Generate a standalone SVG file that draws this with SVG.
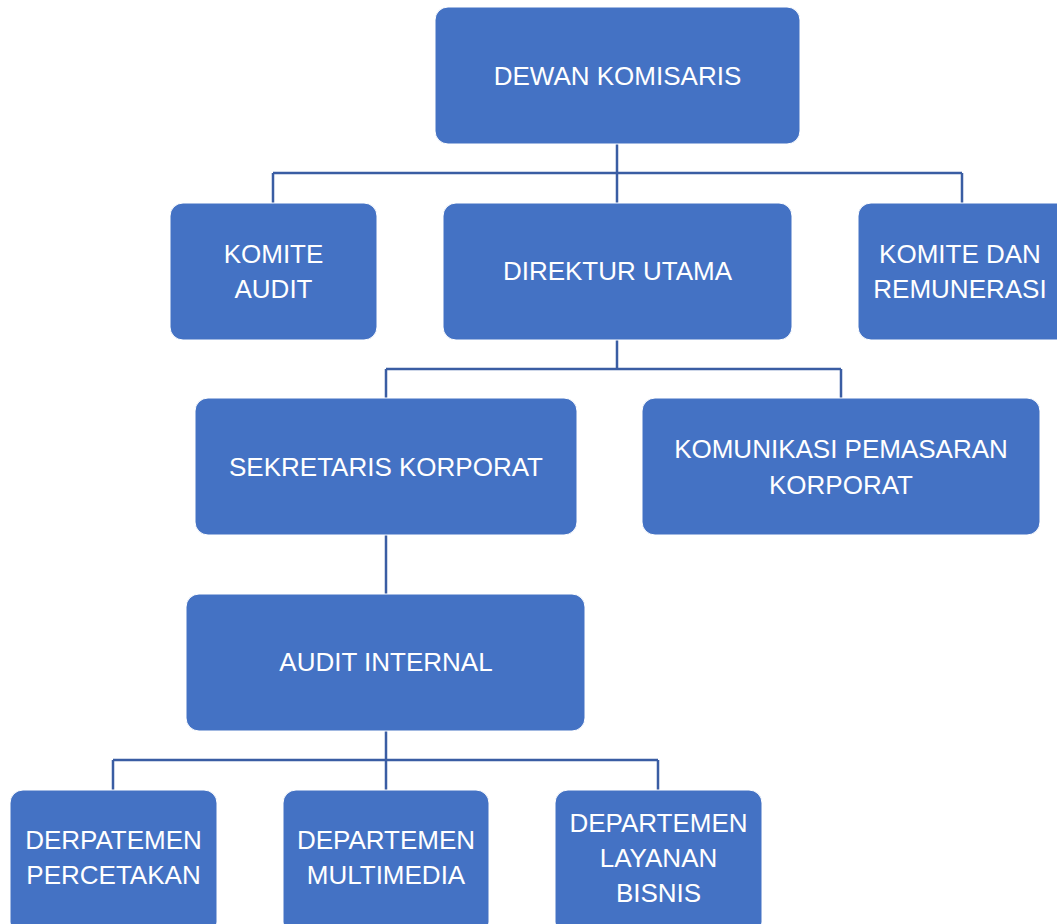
<svg xmlns="http://www.w3.org/2000/svg" width="1057" height="924" viewBox="0 0 1057 924">
<style>
.box{fill:#4472C4;stroke:#ffffff;stroke-width:1}
.t{font-family:"Liberation Sans",Arial,sans-serif;font-size:26px;fill:#ffffff;text-anchor:middle}
.c{fill:none;stroke:#3A5DA3;stroke-width:2.5}
</style>
<rect width="1057" height="924" fill="#ffffff"/>
<g id="connectors">
<path class="c" d="M617,144 V173 M273,173 H962 M273,173 V203 M617,173 V203 M962,173 V203"/>
<path class="c" d="M617,340 V369 M386,369 H841 M386,369 V398 M841,369 V398"/>
<path class="c" d="M386,535 V594"/>
<path class="c" d="M386,731 V760 M113,760 H658 M113,760 V790 M386,760 V790 M658,760 V790"/>
</g>
<g id="dewan-komisaris">
<rect class="box" x="435" y="7" width="365" height="137" rx="13"/>
<text class="t" x="617.5" y="85">DEWAN KOMISARIS</text>
</g>
<g id="komite-audit">
<rect class="box" x="170" y="203" width="207" height="137" rx="13"/>
<text class="t" x="273.5" y="263">KOMITE</text>
<text class="t" x="273.5" y="298">AUDIT</text>
</g>
<g id="direktur-utama">
<rect class="box" x="443" y="203" width="349" height="137" rx="13"/>
<text class="t" x="617.5" y="280">DIREKTUR UTAMA</text>
</g>
<g id="komite-remunerasi">
<rect class="box" x="858" y="203" width="212" height="137" rx="13"/>
<text class="t" x="960" y="263">KOMITE DAN</text>
<text class="t" x="960" y="298">REMUNERASI</text>
</g>
<g id="sekretaris-korporat">
<rect class="box" x="195" y="398" width="382" height="137" rx="13"/>
<text class="t" x="386" y="476">SEKRETARIS KORPORAT</text>
</g>
<g id="komunikasi-pemasaran">
<rect class="box" x="642" y="398" width="398" height="137" rx="13"/>
<text class="t" x="841" y="458">KOMUNIKASI PEMASARAN</text>
<text class="t" x="841" y="494">KORPORAT</text>
</g>
<g id="audit-internal">
<rect class="box" x="186" y="594" width="399" height="137" rx="13"/>
<text class="t" x="386" y="671">AUDIT INTERNAL</text>
</g>
<g id="dept-percetakan">
<rect class="box" x="10" y="790" width="207" height="145" rx="13"/>
<text class="t" x="113.5" y="849">DERPATEMEN</text>
<text class="t" x="113.5" y="884">PERCETAKAN</text>
</g>
<g id="dept-multimedia">
<rect class="box" x="283" y="790" width="206" height="145" rx="13"/>
<text class="t" x="386" y="849">DEPARTEMEN</text>
<text class="t" x="386" y="884">MULTIMEDIA</text>
</g>
<g id="dept-layanan-bisnis">
<rect class="box" x="555" y="790" width="207" height="145" rx="13"/>
<text class="t" x="658.5" y="832">DEPARTEMEN</text>
<text class="t" x="658.5" y="867">LAYANAN</text>
<text class="t" x="658.5" y="902">BISNIS</text>
</g>
</svg>
